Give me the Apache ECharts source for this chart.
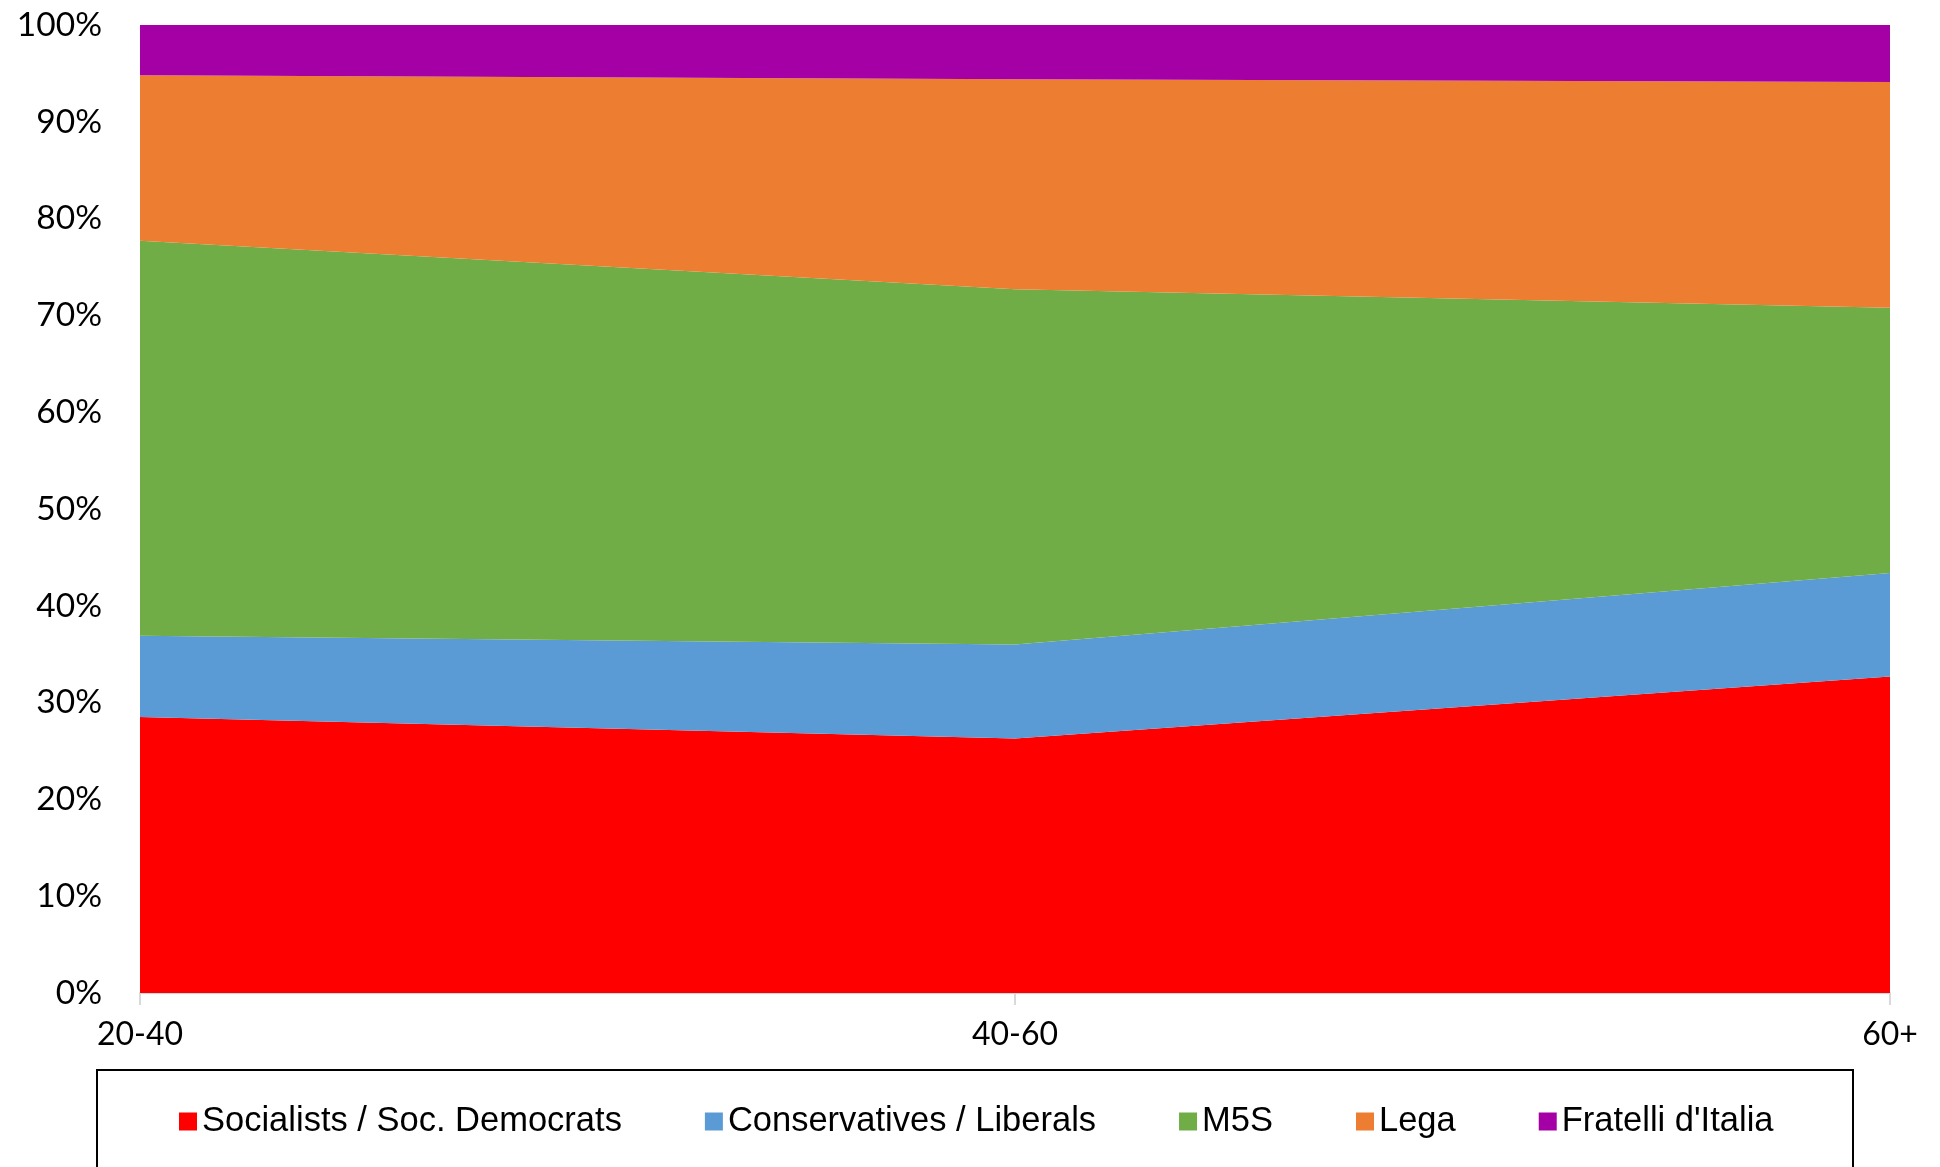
<!DOCTYPE html>
<html><head><meta charset="utf-8">
<script src="https://cdn.jsdelivr.net/npm/echarts@6/dist/echarts.min.js"></script>
<style>html,body{margin:0;padding:0;background:#fff}#c{width:1940px;height:1167px}</style>
</head><body><div id="c"></div>
<script>
const categories = ['20-40', '40-60', '60+'];
const socialists = [28.5, 26.3, 32.7];
const conservatives = [8.4, 9.7, 10.7];
const m5s = [40.8, 36.7, 27.4];
const lega = [17.1, 21.7, 23.3];
const fratelli = [5.2, 5.6, 5.9];
const seriesNames = ['Socialists / Soc. Democrats', 'Conservatives / Liberals', 'M5S', 'Lega', "Fratelli d'Italia"];
const seriesData = [socialists, conservatives, m5s, lega, fratelli];
const colors = ['#FF0000', '#5B9BD5', '#70AD47', '#ED7D31', '#A500A5'];

const chart = echarts.init(document.getElementById('c'));
chart.setOption({
  animation: false,
  color: colors,
  grid: {left: 140, right: 50, top: 25, bottom: 174},
  graphic: [{
    type: 'rect', left: 96, top: 1069,
    shape: {width: 1756, height: 200},
    style: {fill: '#fff', stroke: '#000', lineWidth: 2}, z: -1
  }],
  legend: {
    left: 174, top: 1099, itemGap: 83, itemWidth: 18, itemHeight: 18,
    icon: 'rect',
    textStyle: {fontFamily: 'Liberation Sans', fontSize: 34.5, color: '#000'},
    data: seriesNames
  },
  xAxis: {
    type: 'category', data: categories, boundaryGap: false,
    axisLine: {lineStyle: {color: '#D9D9D9', width: 2}},
    axisTick: {show: true, length: 12, lineStyle: {color: '#D9D9D9', width: 2}},
    axisLabel: {fontFamily: 'Lato', fontSize: 32, color: '#000', margin: 26}
  },
  yAxis: {
    type: 'value', min: 0, max: 100, interval: 10,
    axisLine: {show: false}, axisTick: {show: false}, splitLine: {show: false},
    axisLabel: {formatter: '{value}%', fontFamily: 'Lato', fontSize: 33.5, color: '#000', margin: 38}
  },
  series: seriesNames.map((n, i) => ({
    name: n, type: 'line', stack: 'total', data: seriesData[i],
    showSymbol: false, symbol: 'none',
    lineStyle: {width: 0},
    areaStyle: {color: colors[i], opacity: 1}
  }))
});
</script></body></html>
